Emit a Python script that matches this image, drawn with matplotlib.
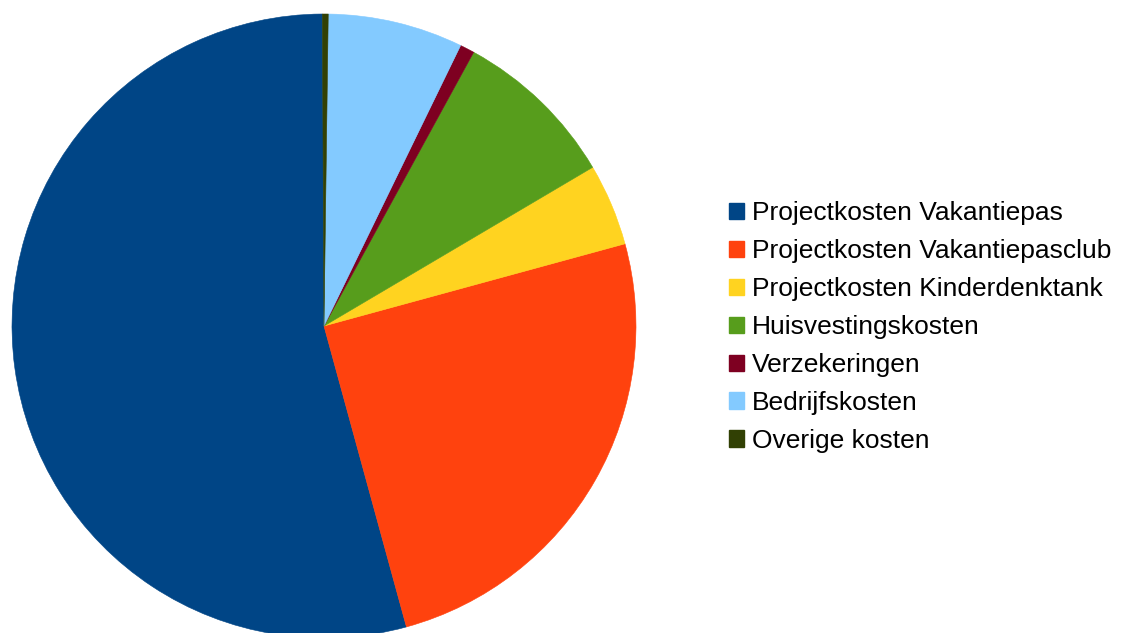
import matplotlib
matplotlib.use('Agg')
import matplotlib.pyplot as plt
from matplotlib.patches import Patch

# Cost categories and their share (%)
labels = ['Projectkosten Vakantiepas', 'Projectkosten Vakantiepasclub',
          'Projectkosten Kinderdenktank', 'Huisvestingskosten',
          'Verzekeringen', 'Bedrijfskosten', 'Overige kosten']
shares = [54.2, 25.0, 4.25, 8.55, 0.75, 7.0, 0.3]
colors = ['#004586', '#ff420e', '#ffd320', '#579d1c', '#7e0021', '#83caff', '#314004']

plt.rcParams['font.family'] = ['Liberation Sans', 'DejaVu Sans']

W, H = 1121, 633
fig = plt.figure(figsize=(W / 100, H / 100), dpi=100)

# Pie axes: centre (324, 326) px from top-left, radius 312 px
cx, cy, r = 324, 326, 312
ax = fig.add_axes([(cx - r) / W, (H - cy - r) / H, 2 * r / W, 2 * r / H])
ax.pie(shares, colors=colors, startangle=90.3, counterclock=True,
       wedgeprops={'linewidth': 0.4, 'edgecolor': 'none'})
for w, c in zip(ax.patches, colors):
    w.set_edgecolor(c)
ax.set_xlim(-1, 1)
ax.set_ylim(-1, 1)
ax.axis('off')

handles = [Patch(facecolor=c, edgecolor=c) for c in colors]
fig.legend(handles, labels, loc='upper left', bbox_to_anchor=(729 / W, 1 - 201 / H),
           frameon=False, fontsize=19, handlelength=0.57, handleheight=0.57,
           handletextpad=0.3, labelspacing=0.53, borderaxespad=0, borderpad=0)

fig.savefig('out.png', dpi=100)
